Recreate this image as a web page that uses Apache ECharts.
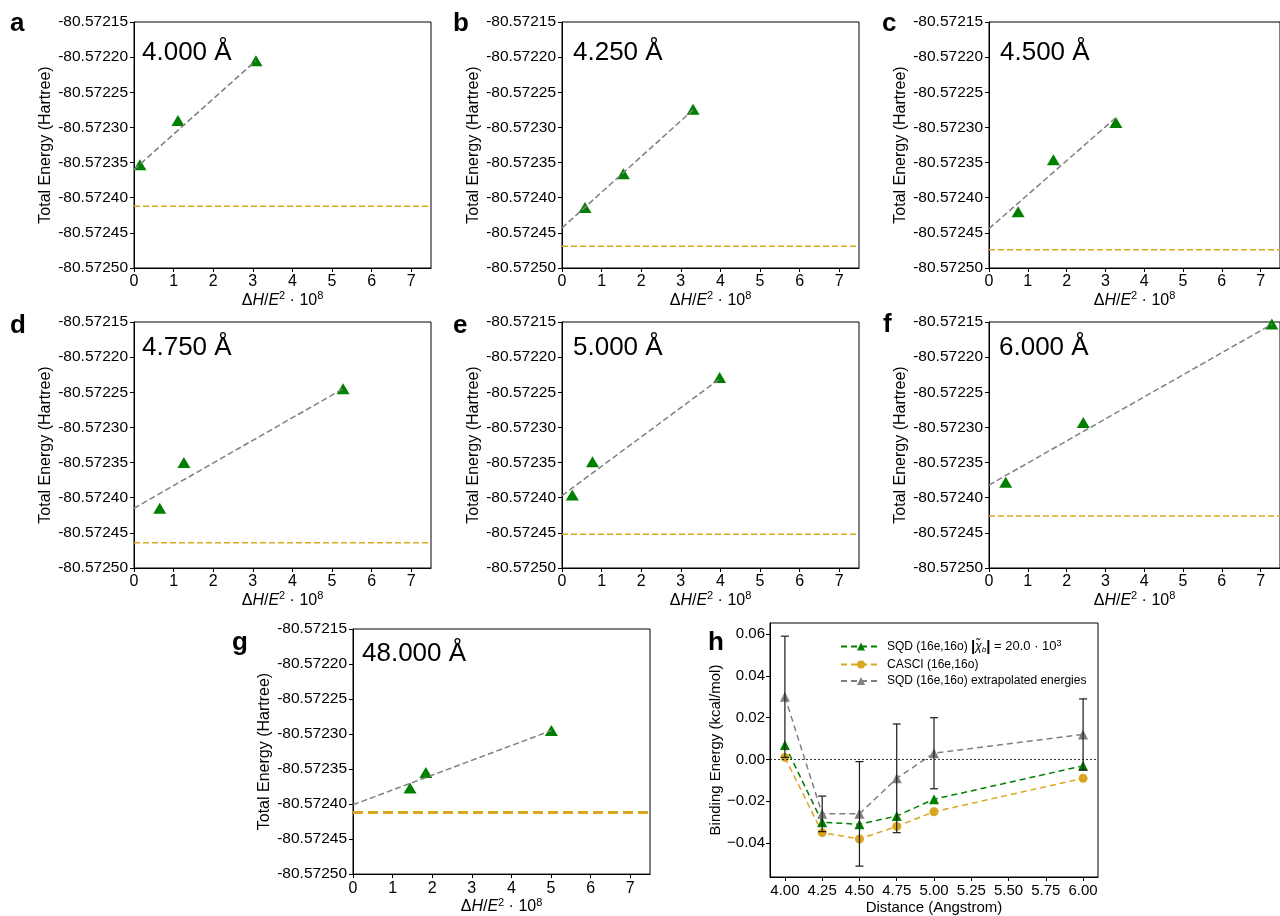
<!DOCTYPE html>
<html>
<head>
<meta charset="utf-8">
<script src="https://cdn.jsdelivr.net/npm/echarts@6/dist/echarts.min.js"></script>
<style>
  html, body { margin: 0; padding: 0; background: #fff; }
  #chart { width: 1280px; height: 916px; }
</style>
</head>
<body>
<div id="chart"></div>
<script>
// ---- panels a-g : energy vs dH/E^2 ----
const panelLetters = ['a', 'b', 'c', 'd', 'e', 'f', 'g'];
const distLabels = ['4.000 Å', '4.250 Å', '4.500 Å', '4.750 Å', '5.000 Å', '6.000 Å', '48.000 Å'];

// SQD points [dH/E^2 * 1e8, total energy]
const sqdA = [[0.15, -80.572353], [1.11, -80.57229], [3.08, -80.572205]];
const sqdB = [[0.58, -80.572414], [1.55, -80.572366], [3.31, -80.572274]];
const sqdC = [[0.75, -80.57242], [1.66, -80.572346], [3.27, -80.572293]];
const sqdD = [[0.65, -80.572415], [1.26, -80.57235], [5.28, -80.572245]];
const sqdE = [[0.26, -80.572396], [0.77, -80.572349], [3.98, -80.572229]];
const sqdF = [[0.43, -80.572378], [2.43, -80.572293], [7.29, -80.572153]];
const sqdG = [[1.44, -80.572377], [1.84, -80.572355], [5.01, -80.572295]];

// linear fit (extrapolation) line ends
const fitA = [[0, -80.57236], [3.08, -80.572205]];
const fitB = [[0, -80.572443], [3.31, -80.572275]];
const fitC = [[0, -80.572444], [3.27, -80.572286]];
const fitD = [[0, -80.572415], [5.28, -80.572245]];
const fitE = [[0, -80.572397], [3.98, -80.572231]];
const fitF = [[0, -80.572382], [7.3, -80.572153]];
const fitG = [[0, -80.572401], [5.01, -80.572295]];

// CASCI reference energy per panel
const casciEnergy = [-80.572412, -80.572469, -80.572474, -80.572464, -80.572452, -80.572426, -80.572412];

const energyTicks = [-80.5725, -80.57245, -80.5724, -80.57235, -80.5723, -80.57225, -80.5722, -80.57215];
const dhTicks = [0, 1, 2, 3, 4, 5, 6, 7];

// ---- panel h : binding energy vs distance ----
const distances = [4.00, 4.25, 4.50, 4.75, 5.00, 6.00];
const sqdBinding = [0.007, -0.030, -0.031, -0.027, -0.019, -0.003];
const casciBinding = [0.001, -0.035, -0.038, -0.032, -0.025, -0.009];
const extrapBinding = [0.030, -0.026, -0.026, -0.009, 0.003, 0.012];
const extrapErr = [0.029, 0.0085, 0.025, 0.026, 0.017, 0.017];
const hXTicks = [4.00, 4.25, 4.50, 4.75, 5.00, 5.25, 5.50, 5.75, 6.00];
const hYTicks = [-0.04, -0.02, 0.00, 0.02, 0.04, 0.06];

const sqdAll = [sqdA, sqdB, sqdC, sqdD, sqdE, sqdF, sqdG];
const fitAll = [fitA, fitB, fitC, fitD, fitE, fitF, fitG];

const FONT = '"Liberation Sans", Arial, Helvetica, sans-serif';
const GREEN = '#008000', GOLD = '#DAA520', GRAY = '#808080';

// layout of the small panels
const boxes = [
  { left: 134, top: 22 }, { left: 562, top: 22 }, { left: 989, top: 22 },
  { left: 134, top: 322 }, { left: 562, top: 322 }, { left: 989, top: 322 },
  { left: 353, top: 629 }
];
const letterPos = [[10, 24], [453, 24], [882, 24], [10, 326], [453, 326], [883, 325], [232, 643]];
const distPos = [[142, 53], [573, 53], [1000, 53], [142, 348], [573, 348], [999, 348], [362, 654]];

const grid = [], xAxis = [], yAxis = [], series = [], graphic = [];

const dhName = '{g|Δ}{i|H}{g|/}{i|E}{s|2}{g| · 10}{s|8}';
const dhRich = {
  g: { fontSize: 16, lineHeight: 20, fontFamily: FONT, color: '#000' },
  i: { fontSize: 16, lineHeight: 20, fontFamily: FONT, fontStyle: 'italic', color: '#000' },
  s: { fontSize: 11, lineHeight: 11, fontFamily: FONT, verticalAlign: 'top', color: '#000' }
};

// horizontal reference line spanning the whole grid at one energy
const hLine = (width, dash) => (params, api) => {
  const y = api.coord([api.value(0), api.value(1)])[1];
  const cs = params.coordSys;
  return {
    type: 'line',
    shape: { x1: cs.x, y1: y, x2: cs.x + cs.width, y2: y },
    style: { stroke: GOLD, lineWidth: width, lineDash: dash }
  };
};

boxes.forEach((b, i) => {
  grid.push({ left: b.left, top: b.top, width: 297, height: 246, show: true, borderColor: '#000', borderWidth: 1 });
  xAxis.push({
    gridIndex: i, type: 'value', min: 0, max: 7.5,
    axisLine: { onZero: false, lineStyle: { color: '#000' } },
    axisTick: { customValues: dhTicks, length: 4, lineStyle: { color: '#000' } },
    axisLabel: { customValues: dhTicks, fontSize: 16, color: '#000', fontFamily: FONT, margin: 6 },
    splitLine: { show: false },
    name: dhName, nameLocation: 'middle', nameGap: 22,
    nameTextStyle: { rich: dhRich }
  });
  yAxis.push({
    gridIndex: i, type: 'value', min: -80.5725, max: -80.57215, scale: true,
    axisLine: { onZero: false, lineStyle: { color: '#000' } },
    axisTick: { customValues: energyTicks, length: 4, lineStyle: { color: '#000' } },
    axisLabel: { customValues: energyTicks, fontSize: 15.5, color: '#000', fontFamily: FONT, margin: 6,
      formatter: v => v.toFixed(5) },
    splitLine: { show: false },
    name: 'Total Energy (Hartree)', nameLocation: 'middle', nameGap: 80,
    nameTextStyle: { fontSize: 16, color: '#000', fontFamily: FONT }
  });
  const thick = i === 6;
  series.push({
    type: 'custom', xAxisIndex: i, yAxisIndex: i, z: 1, silent: true,
    data: [[0, casciEnergy[i]]],
    encode: { x: 0, y: 1 },
    renderItem: thick ? hLine(3, [10, 5]) : hLine(1.5, [6, 3])
  });
  series.push({
    type: 'scatter', xAxisIndex: i, yAxisIndex: i, data: sqdAll[i],
    symbol: 'triangle', symbolSize: [13, 11], itemStyle: { color: GREEN, opacity: 1 }, z: 2
  });
  series.push({
    type: 'line', xAxisIndex: i, yAxisIndex: i, data: fitAll[i],
    showSymbol: false, symbol: 'none', z: 3,
    lineStyle: { color: GRAY, type: [6, 3], width: 1.5 }
  });
  graphic.push({
    type: 'text', x: letterPos[i][0], y: letterPos[i][1],
    style: { text: panelLetters[i], fontSize: 26, fontWeight: 'bold', fontFamily: FONT, fill: '#000',
      verticalAlign: 'middle', textVerticalAlign: 'middle' }
  });
  graphic.push({
    type: 'text', x: distPos[i][0], y: distPos[i][1],
    style: { text: distLabels[i], fontSize: 26, fontFamily: FONT, fill: '#000',
      verticalAlign: 'middle', textVerticalAlign: 'middle' }
  });
});

// panel h
const h = 7;
grid.push({ left: 770, top: 623, width: 328, height: 255, show: true, borderColor: '#000', borderWidth: 1 });
xAxis.push({
  gridIndex: h, type: 'value', min: 3.9, max: 6.1,
  axisLine: { onZero: false, lineStyle: { color: '#000' } },
  axisTick: { customValues: hXTicks, length: 4, lineStyle: { color: '#000' } },
  axisLabel: { customValues: hXTicks, fontSize: 15, color: '#000', fontFamily: FONT, margin: 6,
    formatter: v => v.toFixed(2) },
  splitLine: { show: false },
  name: 'Distance (Angstrom)', nameLocation: 'middle', nameGap: 23,
  nameTextStyle: { fontSize: 15, color: '#000', fontFamily: FONT }
});
yAxis.push({
  gridIndex: h, type: 'value', min: -0.0562, max: 0.0653,
  axisLine: { onZero: false, lineStyle: { color: '#000' } },
  axisTick: { customValues: hYTicks, length: 4, lineStyle: { color: '#000' } },
  axisLabel: { customValues: hYTicks, fontSize: 15, color: '#000', fontFamily: FONT, margin: 5,
    formatter: v => (v < -1e-9 ? '\u2212' : '') + Math.abs(v).toFixed(2) },
  splitLine: { show: false },
  name: 'Binding Energy (kcal/mol)', nameLocation: 'middle', nameGap: 47,
  nameTextStyle: { fontSize: 15, color: '#000', fontFamily: FONT }
});

const pairs = arr => distances.map((d, i) => [d, arr[i]]);

series.push({
  name: 'sqd', type: 'line', xAxisIndex: h, yAxisIndex: h, data: pairs(sqdBinding),
  symbol: 'triangle', symbolSize: 10, itemStyle: { color: GREEN },
  lineStyle: { color: GREEN, type: [6, 4], width: 1.5 }, z: 3,
  markLine: {
    silent: true, symbol: 'none', label: { show: false },
    lineStyle: { color: '#000', type: [2, 2], width: 0.8 },
    data: [{ yAxis: 0 }]
  }
});
series.push({
  name: 'casci', type: 'line', xAxisIndex: h, yAxisIndex: h, data: pairs(casciBinding),
  symbol: 'circle', symbolSize: 9, itemStyle: { color: GOLD },
  lineStyle: { color: GOLD, type: [6, 4], width: 1.5 }, z: 3
});
series.push({
  name: 'extrap', type: 'line', xAxisIndex: h, yAxisIndex: h, data: pairs(extrapBinding),
  symbol: 'triangle', symbolSize: 10, itemStyle: { color: GRAY },
  lineStyle: { color: GRAY, type: [6, 4], width: 1.5 }, z: 4
});
// error bars of the extrapolated energies
series.push({
  type: 'custom', xAxisIndex: h, yAxisIndex: h, z: 5,
  data: distances.map((d, i) => [d, extrapBinding[i] - extrapErr[i], extrapBinding[i] + extrapErr[i]]),
  encode: { x: 0, y: [1, 2] },
  renderItem: (params, api) => {
    const lo = api.coord([api.value(0), api.value(1)]);
    const hi = api.coord([api.value(0), api.value(2)]);
    const w = 4, st = { stroke: '#1a1a1a', lineWidth: 1.2 };
    return {
      type: 'group',
      children: [
        { type: 'line', shape: { x1: lo[0], y1: lo[1], x2: hi[0], y2: hi[1] }, style: st },
        { type: 'line', shape: { x1: lo[0] - w, y1: lo[1], x2: lo[0] + w, y2: lo[1] }, style: st },
        { type: 'line', shape: { x1: hi[0] - w, y1: hi[1], x2: hi[0] + w, y2: hi[1] }, style: st }
      ]
    };
  }
});
graphic.push({
  type: 'text', x: 708, y: 643,
  style: { text: 'h', fontSize: 26, fontWeight: 'bold', fontFamily: FONT, fill: '#000',
    verticalAlign: 'middle', textVerticalAlign: 'middle' }
});

const legendText = {
  sqd: '{n|SQD (16e,16o) }{b||}{i|χ̃}{sub|b}{b||}{m| = 20.0 · 10}{sup|3}',
  casci: '{n|CASCI (16e,16o)}',
  extrap: '{n|SQD (16e,16o) extrapolated energies}'
};

const chart = echarts.init(document.getElementById('chart'));
chart.setOption({
  animation: false,
  backgroundColor: '#fff',
  textStyle: { fontFamily: FONT },
  grid, xAxis, yAxis, series, graphic,
  legend: {
    data: ['sqd', 'casci', 'extrap'],
    orient: 'vertical', left: 835, top: 634,
    itemWidth: 40, itemHeight: 10, itemGap: 4.5,
    formatter: name => legendText[name],
    textStyle: {
      color: '#000', fontSize: 12, padding: [0, 0, 0, 1],
      rich: {
        n: { fontSize: 12, fontFamily: FONT, color: '#000', lineHeight: 14 },
        m: { fontSize: 13, fontFamily: FONT, color: '#000', lineHeight: 14 },
        b: { fontSize: 15, fontFamily: FONT, fontWeight: 'bold', color: '#000', lineHeight: 14 },
        i: { fontSize: 12, fontFamily: FONT, fontStyle: 'italic', color: '#000', lineHeight: 14 },
        sub: { fontSize: 8, fontFamily: FONT, fontStyle: 'italic', color: '#000', verticalAlign: 'bottom', lineHeight: 9 },
        sup: { fontSize: 9, fontFamily: FONT, color: '#000', verticalAlign: 'top', lineHeight: 9 }
      }
    }
  }
});
</script>
</body>
</html>
